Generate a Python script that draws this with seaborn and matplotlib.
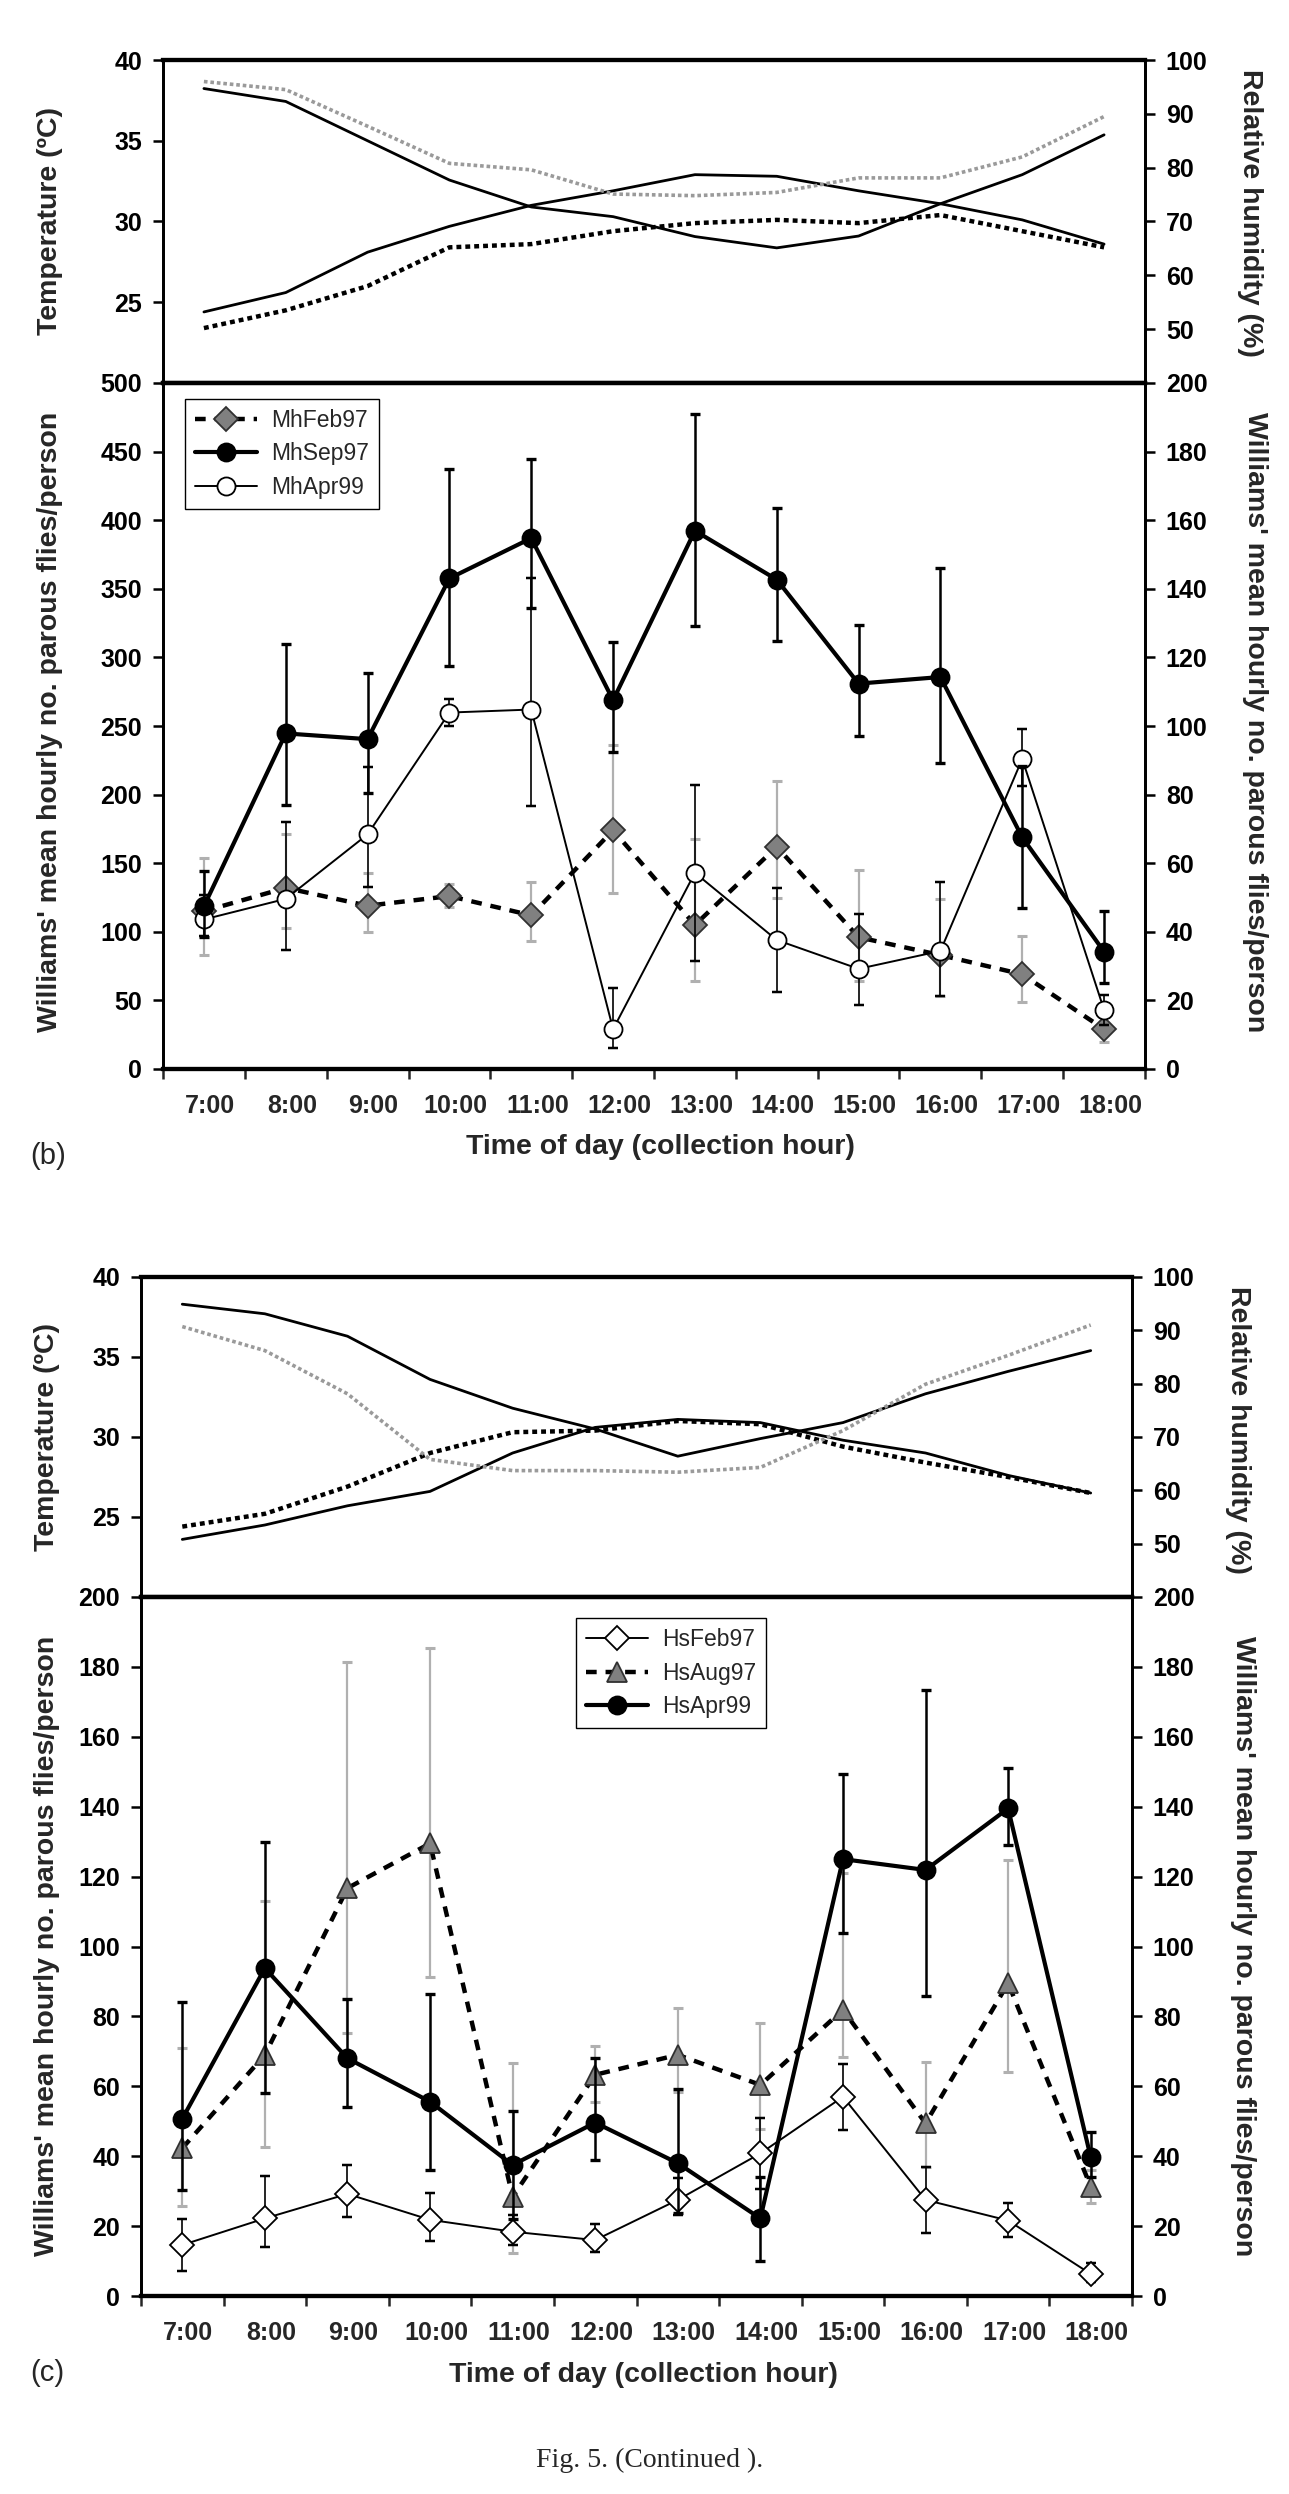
import numpy as np
import matplotlib
matplotlib.use("Agg")
import matplotlib.pyplot as plt
import matplotlib.transforms as mtrans
import seaborn as sns

# ---------------- data ----------------
hours = ["7:00", "8:00", "9:00", "10:00", "11:00", "12:00",
         "13:00", "14:00", "15:00", "16:00", "17:00", "18:00"]

# panel (b) climate
b_temp_solid = [24.4, 25.6, 28.1, 29.7, 31.0, 31.9, 32.9, 32.8, 31.9, 31.1, 30.1, 28.6]
b_temp_dot = [23.4, 24.5, 26.0, 28.4, 28.6, 29.4, 29.9, 30.1, 29.9, 30.4, 29.4, 28.4]
b_rh_solid = [94.7, 92.3, 85.0, 77.7, 72.7, 70.9, 67.2, 65.1, 67.3, 73.3, 78.7, 86.1]
b_rh_gray = [96.0, 94.5, 87.7, 80.8, 79.6, 75.1, 74.8, 75.4, 78.1, 78.1, 82.0, 89.5]

# panel (b) flies
mh_feb97 = [115, 132, 119, 126, 112, 174, 105, 162, 96, 83, 69, 29]
mh_feb97_lo = [83, 103, 100, 118, 93, 128, 64, 125, 64, 53, 49, 20]
mh_feb97_hi = [154, 171, 143, 135, 136, 236, 168, 210, 145, 124, 97, 38]

mh_sep97 = [118.6, 244.6, 240.4, 357.6, 386.9, 268.8, 392.3, 356.7, 280.9, 285.7, 168.8, 85.5]
mh_sep97_lo = [96, 192.5, 201, 294, 336, 231, 323, 311.6, 242.6, 222.8, 117, 63]
mh_sep97_hi = [144, 310, 288.6, 437.5, 444.8, 311, 477.5, 409, 323.7, 364.9, 221, 115]

mh_apr99 = [109, 124, 171, 259.8, 262, 29, 143, 94, 73, 86, 226, 43]
mh_apr99_lo = [97, 87, 133, 250, 192, 15, 79, 56, 47, 53, 206, 32]
mh_apr99_hi = [127, 180, 220, 270, 358, 59, 207, 132, 113, 136, 248, 54]

# panel (c) climate
c_temp_solid = [23.6, 24.5, 25.7, 26.6, 29.0, 30.6, 31.1, 30.9, 29.8, 29.0, 27.6, 26.5]
c_temp_dot = [24.4, 25.2, 26.9, 29.0, 30.3, 30.4, 31.0, 30.8, 29.4, 28.4, 27.5, 26.5]
c_rh_solid = [94.9, 93.1, 88.9, 80.8, 75.4, 71.5, 66.4, 69.7, 72.7, 78.1, 82.3, 86.2]
c_rh_gray = [90.7, 86.2, 78.1, 65.8, 63.7, 63.7, 63.4, 64.3, 71.2, 79.9, 85.3, 91.0]

# panel (c) flies
hs_feb97 = [14.6, 22.2, 29.2, 21.8, 18.4, 16.0, 27.5, 40.8, 57.0, 27.5, 21.6, 6.3]
hs_feb97_lo = [7.2, 14.0, 22.5, 15.8, 14.5, 12.5, 23.2, 30.6, 47.5, 17.9, 17.0, 4.1]
hs_feb97_hi = [22.0, 34.4, 37.5, 29.4, 23.2, 20.6, 33.7, 50.9, 66.5, 37.0, 26.5, 9.5]

hs_aug97 = [42.3, 69.0, 116.7, 129.5, 28.4, 63.3, 69.0, 60.4, 81.9, 49.4, 89.5, 31.3]
hs_aug97_lo = [25.8, 42.7, 75.2, 91.4, 12.2, 55.6, 58.3, 47.7, 68.5, 37.0, 64.2, 26.5]
hs_aug97_hi = [70.9, 112.9, 181.4, 185.4, 66.6, 71.6, 82.3, 78.0, 121.0, 66.9, 124.8, 36.0]

hs_apr99 = [50.7, 93.8, 68.0, 55.6, 37.5, 49.6, 38.0, 22.2, 125.0, 121.9, 139.5, 39.7]
hs_apr99_lo = [30.3, 58.0, 54.2, 36.0, 22.0, 38.9, 23.7, 10.0, 104.0, 85.7, 129.0, 34.0]
hs_apr99_hi = [84.0, 130.0, 85.0, 86.5, 53.0, 68.0, 59.2, 34.0, 149.3, 173.3, 151.2, 46.9]

# ---------------- style ----------------
sns.set_theme(style="ticks")
plt.rcParams["font.family"] = ["Liberation Sans", "DejaVu Sans"]
plt.rcParams["axes.linewidth"] = 2.0

W, H = 1289, 2494
fig = plt.figure(figsize=(W / 100, H / 100), dpi=100)
fig.patch.set_facecolor("white")

X = np.arange(len(hours))
GRAY_M = "#808080"
GRAY_E = "#b0b0b0"
GRAY_L = "#9a9a9a"
TICK_FS = 18
LAB_FS = 20.5


def px_rect(x0, x1, y0, y1):
    return [x0 / W, 1 - y1 / H, (x1 - x0) / W, (y1 - y0) / H]


def style_axis(ax, ylim, yticks, twin=False):
    ax.set_facecolor("white")
    ax.set_xlim(-0.5, len(hours) - 0.5)
    ax.set_ylim(*ylim)
    ax.set_yticks(yticks)
    ax.set_yticklabels([str(t) for t in yticks], fontsize=TICK_FS, fontweight="bold")
    ax.tick_params(axis="y", direction="out", length=7, width=1.8,
                   pad=8 if not twin else 8, colors="black")
    for s in ax.spines.values():
        s.set_visible(True)
        s.set_color("black")
        s.set_linewidth(2.0)
    ax.grid(False)


def add_climate(ax, t_solid, t_dot, rh_solid, rh_gray):
    style_axis(ax, (20, 40), [25, 30, 35, 40])
    ax.set_xticks(np.arange(-0.5, len(hours), 1.0))
    ax.set_xticklabels([])
    ax.tick_params(axis="x", direction="out", length=7, width=1.8)
    ax.spines["top"].set_linewidth(3.0)
    ax.spines["bottom"].set_linewidth(3.0)
    ax2 = ax.twinx()
    style_axis(ax2, (40, 100), [50, 60, 70, 80, 90, 100], twin=True)
    ax2.spines["top"].set_linewidth(3.0)
    ax2.spines["bottom"].set_linewidth(3.0)

    sns.lineplot(x=X, y=t_solid, ax=ax, color="black", lw=2.0, errorbar=None, legend=False)
    sns.lineplot(x=X, y=t_dot, ax=ax, color="black", lw=3.2, errorbar=None, legend=False)
    ax.lines[-1].set_linestyle((0, (1.1, 0.9)))
    sns.lineplot(x=X, y=rh_solid, ax=ax2, color="black", lw=2.0, errorbar=None, legend=False)
    sns.lineplot(x=X, y=rh_gray, ax=ax2, color=GRAY_L, lw=2.6, errorbar=None, legend=False)
    ax2.lines[-1].set_linestyle((0, (1.0, 0.8)))
    ax.set_ylabel("")
    ax2.set_ylabel("")
    return ax2


def add_series(ax, y, lo, hi, label, lw, ls, marker, ms, mfc, mec, ecolor, elw, z):
    y = np.asarray(y, float)
    lo = np.asarray(lo, float)
    hi = np.asarray(hi, float)
    ax.errorbar(X, y, yerr=[y - lo, hi - y], fmt="none", ecolor=ecolor,
                elinewidth=elw, capsize=3.5, capthick=elw + 0.6, zorder=z - 1)
    sns.lineplot(x=X, y=y, ax=ax, color="black", lw=lw, errorbar=None, legend=False,
                 marker=marker, ms=ms, mfc=mfc, mec=mec, mew=1.3, zorder=z, label=label)
    line = ax.lines[-1]
    line.set_linestyle(ls)
    line.set_dash_capstyle("butt")
    return line


def style_main(ax, ylim, yticks, rticks):
    style_axis(ax, ylim, yticks)
    ax.set_xticks(np.arange(-0.5, len(hours), 1.0))
    ax.set_xticklabels([])
    ax.tick_params(axis="x", which="major", direction="out", length=7, width=1.8)
    ax.set_xticks(X, minor=True)
    ax.set_xticklabels(hours, minor=True, fontsize=TICK_FS, fontweight="bold")
    ax.tick_params(axis="x", which="minor", length=0, pad=18)
    offset = mtrans.ScaledTranslation(6 / 100, 0, fig.dpi_scale_trans)
    for lab in ax.get_xticklabels(minor=True):
        lab.set_transform(lab.get_transform() + offset)
    ax.spines["bottom"].set_linewidth(3.0)
    ax.spines["top"].set_linewidth(3.0)
    ax2 = ax.twinx()
    style_axis(ax2, rticks[0], rticks[1], twin=True)
    ax2.spines["bottom"].set_linewidth(3.0)
    ax2.spines["top"].set_linewidth(3.0)
    ax2.set_ylabel("")
    return ax2


def legend(ax, lines, labels, anchor):
    leg = ax.legend(lines, labels, loc="upper left", bbox_to_anchor=anchor,
                    borderaxespad=0, frameon=True, fancybox=False, framealpha=1,
                    edgecolor="black", fontsize=16.5, handlelength=2.7,
                    handletextpad=0.6, labelspacing=0.45, borderpad=0.45,
                    numpoints=1)
    leg.get_frame().set_linewidth(1.0)
    leg.set_zorder(20)


# ================= panel (b) =================
b_top = fig.add_axes(px_rect(163, 1145, 60, 383))
b_main = fig.add_axes(px_rect(163, 1145, 383, 1069))
add_climate(b_top, b_temp_solid, b_temp_dot, b_rh_solid, b_rh_gray)
b_main2 = style_main(b_main, (0, 500), list(range(0, 501, 50)),
                     ((0, 200), list(range(0, 201, 20))))

l_feb = add_series(b_main, mh_feb97, mh_feb97_lo, mh_feb97_hi, "MhFeb97",
                   3.2, (0, (2.4, 2.0)), "D", 12, GRAY_M, "#303030", GRAY_E, 1.6, 4)
l_apr = add_series(b_main, mh_apr99, mh_apr99_lo, mh_apr99_hi, "MhApr99",
                   1.4, "-", "o", 13, "white", "black", "black", 1.2, 6)
l_sep = add_series(b_main, mh_sep97, mh_sep97_lo, mh_sep97_hi, "MhSep97",
                   3.0, "-", "o", 13, "black", "black", "black", 1.8, 8)
b_main.set_ylabel("")
legend(b_main, [l_feb, l_sep, l_apr], ["MhFeb97", "MhSep97", "MhApr99"], (0.0224, 0.977))

# ================= panel (c) =================
c_top = fig.add_axes(px_rect(141, 1132, 1277, 1597))
c_main = fig.add_axes(px_rect(141, 1132, 1597, 2296))
add_climate(c_top, c_temp_solid, c_temp_dot, c_rh_solid, c_rh_gray)
c_main2 = style_main(c_main, (0, 200), list(range(0, 201, 20)),
                     ((0, 200), list(range(0, 201, 20))))

h_feb = add_series(c_main, hs_feb97, hs_feb97_lo, hs_feb97_hi, "HsFeb97",
                   1.4, "-", "D", 12, "white", "black", "black", 1.2, 6)
h_aug = add_series(c_main, hs_aug97, hs_aug97_lo, hs_aug97_hi, "HsAug97",
                   3.2, (0, (2.4, 2.0)), "^", 14, GRAY_M, "#303030", GRAY_E, 1.6, 4)
h_apr = add_series(c_main, hs_apr99, hs_apr99_lo, hs_apr99_hi, "HsApr99",
                   3.0, "-", "o", 13, "black", "black", "black", 1.8, 8)
c_main.set_ylabel("")
legend(c_main, [h_feb, h_aug, h_apr], ["HsFeb97", "HsAug97", "HsApr99"], (0.439, 0.97))

# ================= texts =================
def ftext(xp, yp, s, **kw):
    fig.text(xp / W, 1 - yp / H, s, **kw)

lab = dict(fontsize=LAB_FS, fontweight="bold", ha="center", va="center")
ylab_main = "Williams' mean hourly no. parous flies/person"

ftext(50, 221, "Temperature (ºC)", rotation=90, **lab)
ftext(50, 722, ylab_main, rotation=90, **lab)
ftext(1250, 213, "Relative humidity (%)", rotation=270, **lab)
ftext(1255, 722, ylab_main, rotation=270, **lab)
ftext(660, 1147, "Time of day (collection hour)", **lab)
ftext(48, 1156, "(b)", fontsize=21, ha="center", va="center")

ftext(47, 1437, "Temperature (ºC)", rotation=90, **lab)
ftext(47, 1946, ylab_main, rotation=90, **lab)
ftext(1238, 1430, "Relative humidity (%)", rotation=270, **lab)
ftext(1243, 1946, ylab_main, rotation=270, **lab)
ftext(643, 2375, "Time of day (collection hour)", **lab)
ftext(47, 2373, "(c)", fontsize=21, ha="center", va="center")

ftext(650, 2460, "Fig. 5. (Continued ).", fontsize=20, ha="center", va="center",
      family=["Liberation Serif", "DejaVu Serif"])

fig.savefig("out.png", dpi=100, facecolor="white")
